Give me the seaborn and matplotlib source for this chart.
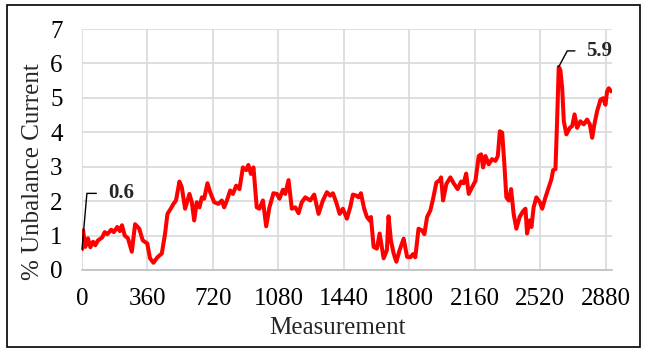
import matplotlib
matplotlib.use("Agg")
import matplotlib.pyplot as plt
import seaborn as sns
import pandas as pd
from matplotlib.patches import Rectangle

measurement = [0, 6, 18, 33, 46, 61, 73, 88, 110, 125, 139, 161, 175, 194, 208, 220, 235, 253,
               274, 292, 315, 334, 359, 374, 393, 415, 439, 457, 470, 488, 503, 517, 536, 549,
               567, 591, 604, 617, 631, 646, 659, 672, 690, 705, 727, 750, 769, 782, 797, 815,
               830, 848, 866, 885, 903, 915, 929, 943, 961, 976, 995, 1013, 1031, 1053, 1072,
               1086, 1105, 1118, 1136, 1154, 1173, 1191, 1209, 1228, 1255, 1277, 1301, 1325,
               1347, 1365, 1380, 1398, 1417, 1435, 1457, 1475, 1490, 1508, 1521, 1534, 1552,
               1567, 1582, 1589, 1604, 1622, 1637, 1659, 1677, 1686, 1699, 1714, 1729, 1747,
               1769, 1788, 1806, 1820, 1833, 1851, 1870, 1883, 1898, 1916, 1931, 1949, 1967,
               1975, 1986, 2004, 2026, 2044, 2066, 2085, 2099, 2113, 2127, 2145, 2164, 2182,
               2195, 2206, 2219, 2237, 2255, 2274, 2287, 2298, 2311, 2323, 2334, 2347, 2360,
               2374, 2389, 2407, 2426, 2439, 2448, 2462, 2472, 2484, 2499, 2518, 2531, 2549,
               2567, 2582, 2591, 2604, 2613, 2622, 2631, 2641, 2650, 2664, 2683, 2696, 2709,
               2723, 2741, 2760, 2778, 2793, 2806, 2818, 2833, 2852, 2866, 2879, 2888, 2897,
               2910]
unbalance = [0.60, 1.15, 0.67, 0.92, 0.66, 0.82, 0.72, 0.86, 0.94, 1.10, 1.04, 1.17, 1.10, 1.25,
             1.13, 1.30, 1.00, 0.92, 0.53, 1.33, 1.20, 0.86, 0.77, 0.34, 0.21, 0.37, 0.48, 1.06,
             1.63, 1.78, 1.92, 2.02, 2.57, 2.40, 1.78, 2.21, 1.97, 1.44, 1.97, 1.82, 2.11, 2.07,
             2.52, 2.26, 1.97, 1.92, 2.02, 1.82, 2.02, 2.31, 2.21, 2.45, 2.35, 2.98, 2.90, 3.05,
             2.79, 2.98, 1.82, 1.78, 2.02, 1.27, 1.82, 2.23, 2.21, 2.07, 2.33, 2.21, 2.61, 1.78,
             1.82, 1.65, 1.97, 2.11, 2.02, 2.19, 1.63, 2.02, 2.26, 2.16, 2.23, 1.97, 1.63, 1.78,
             1.49, 1.82, 2.19, 2.16, 2.11, 2.23, 1.78, 1.54, 1.44, 1.54, 0.67, 0.62, 1.06, 0.34,
             0.58, 1.56, 0.86, 0.48, 0.24, 0.58, 0.91, 0.38, 0.37, 0.46, 0.37, 1.20, 1.15, 1.04,
             1.54, 1.73, 2.07, 2.54, 2.61, 2.69, 2.02, 2.50, 2.69, 2.52, 2.35, 2.57, 2.52, 2.80,
             2.21, 2.40, 2.59, 3.31, 3.36, 2.98, 3.31, 3.07, 3.22, 3.17, 3.31, 4.03, 3.99, 3.07,
             2.11, 2.02, 2.35, 1.63, 1.20, 1.54, 1.71, 1.78, 1.06, 1.44, 1.25, 1.82, 2.11, 1.97,
             1.78, 2.11, 2.40, 2.64, 2.90, 2.93, 4.32, 5.90, 5.81, 5.28, 4.32, 3.94, 4.13, 4.18,
             4.52, 4.13, 4.32, 4.23, 4.37, 4.23, 3.84, 4.23, 4.61, 4.95, 4.99, 4.80, 5.19, 5.28,
             5.19]
x_ticks = [0, 360, 720, 1080, 1440, 1800, 2160, 2520, 2880]
y_ticks = [0, 1, 2, 3, 4, 5, 6, 7]
start_label = "0.6"
peak_label = "5.9"

df = pd.DataFrame({"Measurement": measurement, "Unbalance": unbalance})

sns.set_theme(style="white")
plt.rcParams["font.family"] = ["Liberation Serif", "DejaVu Serif"]

fig = plt.figure(figsize=(6.46, 3.49), dpi=100)
ax = fig.add_axes([82 / 646, 1 - 270 / 349, 530 / 646, 241 / 349])

sns.lineplot(data=df, x="Measurement", y="Unbalance", ax=ax, color="#FF0000",
             linewidth=2.9, solid_joinstyle="round", solid_capstyle="round", zorder=3)

ax.set_xlim(0, 2915)
ax.set_ylim(0, 7)
ax.set_xticks(x_ticks)
ax.set_yticks(y_ticks)
ax.set_xticklabels([str(t) for t in x_ticks])
ax.set_yticklabels([str(t) for t in y_ticks])
ax.tick_params(axis="both", length=0, labelsize=18, colors="#000000")
ax.tick_params(axis="x", pad=13)
ax.tick_params(axis="y", pad=14)

ax.grid(True, color="#D9D9D9", linewidth=1.2)
ax.set_axisbelow(True)
for side in ["top", "right", "left"]:
    ax.spines[side].set_visible(False)
ax.spines["bottom"].set_color("#BFBFBF")
ax.spines["bottom"].set_linewidth(1.2)

ax.set_xlabel("Measurement", fontsize=18)
ax.set_ylabel("% Unbalance Current", fontsize=18)
ax.xaxis.set_label_coords(0.482, -0.195)
ax.yaxis.set_label_coords(-0.072, 0.407)

ax.annotate(start_label, xy=(measurement[0], unbalance[0]), xytext=(18.7, 40.3),
            textcoords="offset points", ha="left", va="center", fontsize=15,
            fontweight="bold",
            arrowprops=dict(arrowstyle="-", color="black", lw=1,
                            connectionstyle="angle,angleA=0,angleB=85,rad=0",
                            relpos=(0, 0.5), shrinkA=6, shrinkB=0))
pk = unbalance.index(max(unbalance))
ax.annotate(peak_label, xy=(measurement[pk], unbalance[pk]), xytext=(20, 11.5),
            textcoords="offset points", ha="left", va="center", fontsize=15,
            fontweight="bold", annotation_clip=False,
            arrowprops=dict(arrowstyle="-", color="black", lw=1,
                            connectionstyle="angle,angleA=0,angleB=62,rad=0",
                            relpos=(0, 0.5), shrinkA=6, shrinkB=0))

fig.patches.append(Rectangle((7 / 646, 2 / 349), 633 / 646, 342 / 349,
                             transform=fig.transFigure, fill=False,
                             edgecolor="black", linewidth=1.2))

fig.savefig("out.png", dpi=100)
